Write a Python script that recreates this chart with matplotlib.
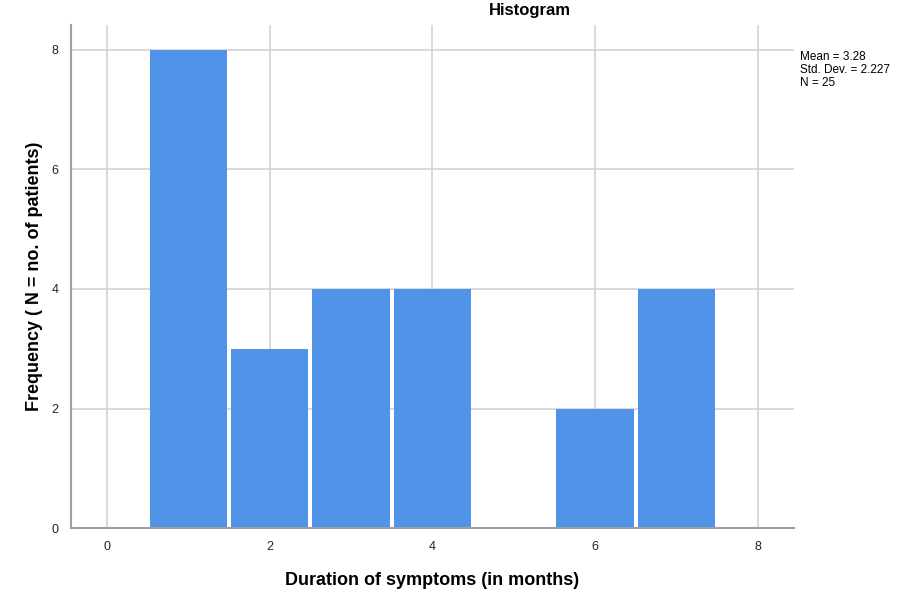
import numpy as np
import matplotlib.pyplot as plt

plt.rcParams["font.family"] = ["Liberation Sans", "DejaVu Sans"]

# duration of symptoms (months) and number of patients with that duration
months = [1, 2, 3, 4, 5, 6, 7]
patients = [8, 3, 4, 4, 0, 2, 4]
durations = np.repeat(months, patients)

mean = durations.mean()
sd = durations.std(ddof=1)
n = len(durations)

fig = plt.figure(figsize=(9.04, 5.9), dpi=100)
ax = fig.add_axes([0.0785, 0.105, 0.7995, 0.853])

ax.hist(durations, bins=np.arange(0.5, 8.5, 1), color="#5193e8",
        rwidth=0.95, linewidth=0, zorder=3)

ax.set_xlim(-0.44, 8.44)
ax.set_ylim(0, 8.42)
ax.set_xticks([0, 2, 4, 6, 8])
ax.set_yticks([0, 2, 4, 6, 8])
ax.grid(True, color="#cfcfd4", linewidth=1.1, zorder=0)
ax.tick_params(length=0, labelsize=9, colors="#222222", pad=9)

for s in ["top", "right"]:
    ax.spines[s].set_visible(False)
for s in ["left", "bottom"]:
    ax.spines[s].set_color("#a0a0a0")
    ax.spines[s].set_linewidth(1.5)
    ax.spines[s].set_zorder(4)

ax.set_xlabel("Duration of symptoms (in months)", fontsize=13,
              fontweight="bold", labelpad=14)
ax.set_ylabel("Frequency ( N = no. of patients)", fontsize=13,
              fontweight="bold", labelpad=6)

fig.text(530 / 904, 1 - 10 / 590, "Histogram", fontsize=12,
         fontweight="bold", ha="center", va="center")
fig.text(800 / 904, 1 - 51 / 590,
         f"Mean = {mean:.2f}\nStd. Dev. = {sd:.3f}\nN = {n}",
         fontsize=8.5, ha="left", va="top", linespacing=1.1)

fig.savefig("out.png", dpi=100, facecolor="white")
